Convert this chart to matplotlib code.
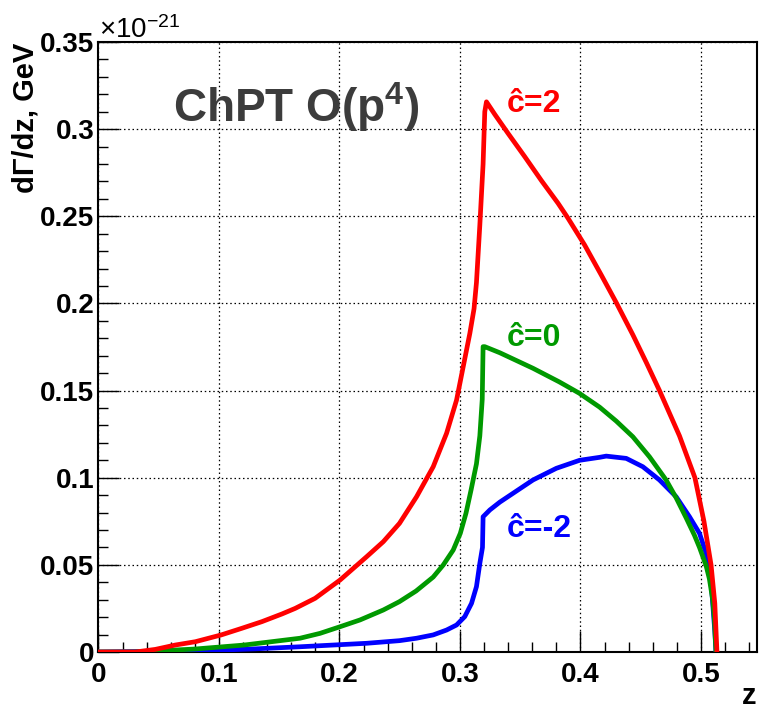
import matplotlib
matplotlib.use("Agg")
import matplotlib.pyplot as plt
from matplotlib.ticker import MultipleLocator, FixedLocator, FixedFormatter

plt.rcParams['font.family'] = ['Liberation Sans', 'DejaVu Sans']
plt.rcParams['mathtext.fontset'] = 'custom'
plt.rcParams['mathtext.rm'] = 'Liberation Sans'
plt.rcParams['mathtext.bf'] = 'Liberation Sans:bold'
plt.rcParams['mathtext.it'] = 'Liberation Sans:italic'

# ---- data ----
red_z = [0.0, 0.0307, 0.0472, 0.0638, 0.0804, 0.1019, 0.119, 0.1356, 0.1522, 0.1632,
         0.1798, 0.2005, 0.2226, 0.2364, 0.2498, 0.264, 0.2778, 0.2889, 0.2972,
         0.3027, 0.3082, 0.3117, 0.3137, 0.3165, 0.3192, 0.3206, 0.322,
         0.3289, 0.340, 0.3538, 0.3676, 0.3814, 0.3896, 0.4035, 0.4173, 0.4297,
         0.4435, 0.4546, 0.4656, 0.4822, 0.495, 0.5025, 0.5084, 0.5115, 0.5133]
red_y = [0.0, 0.0, 0.0015, 0.004, 0.0059, 0.0098, 0.0136, 0.0174, 0.0218, 0.025,
         0.0308, 0.0413, 0.0547, 0.0633, 0.0738, 0.0891, 0.1063, 0.1255, 0.1446,
         0.1637, 0.1828, 0.197, 0.212, 0.245, 0.280, 0.310, 0.3157,
         0.3085, 0.2975, 0.2842, 0.2705, 0.2575, 0.2490, 0.2335, 0.2163, 0.2005,
         0.182, 0.1662, 0.150, 0.124, 0.100, 0.075, 0.050, 0.028, 0.0]

green_z = [0.0, 0.03, 0.08, 0.121, 0.1673, 0.1839, 0.2005, 0.2171, 0.2364, 0.2498,
           0.2636, 0.2778, 0.2861, 0.2944, 0.3003, 0.3050, 0.3092, 0.3137, 0.3165,
           0.3185, 0.3192, 0.3206, 0.3331, 0.3606, 0.3824, 0.3990, 0.4159, 0.4297,
           0.4435, 0.4573, 0.4711, 0.4794, 0.4877, 0.4946, 0.4988, 0.5043, 0.5070,
           0.5098, 0.5112, 0.5117, 0.5125]
green_y = [0.0, 0.0, 0.0017, 0.004, 0.0079, 0.0107, 0.0145, 0.0184, 0.0241, 0.0289,
           0.0350, 0.0430, 0.0499, 0.0585, 0.0681, 0.0796, 0.0929, 0.108, 0.124,
           0.145, 0.1752, 0.1752, 0.1717, 0.1628, 0.155, 0.1485, 0.1405, 0.1325,
           0.1235, 0.112, 0.0987, 0.0885, 0.0770, 0.067, 0.060, 0.0495, 0.042,
           0.0298, 0.0184, 0.011, 0.0]

blue_z = [0.0, 0.09, 0.13, 0.1673, 0.195, 0.2226, 0.2498, 0.264, 0.2778, 0.2889,
          0.2972, 0.3040, 0.3096, 0.3137, 0.3165, 0.3187, 0.3192, 0.3248, 0.3331,
          0.3606, 0.38, 0.3993, 0.4159, 0.4214, 0.438, 0.4518, 0.4656, 0.4794,
          0.4905, 0.4988, 0.5043, 0.507, 0.509, 0.5115, 0.5125]
blue_y = [0.0, 0.0008, 0.0018, 0.003, 0.004, 0.005, 0.0065, 0.0079, 0.0098, 0.0126,
          0.0155, 0.0203, 0.0279, 0.0375, 0.0509, 0.0600, 0.0776, 0.0815, 0.0860,
          0.0987, 0.1054, 0.110, 0.1117, 0.1124, 0.1111, 0.1063, 0.0987, 0.0891,
          0.0776, 0.0681, 0.0566, 0.0489, 0.035, 0.012, 0.0]

x_ticks = [0.0, 0.1, 0.2, 0.3, 0.4, 0.5]
x_tick_labels = ['0', '0.1', '0.2', '0.3', '0.4', '0.5']
y_ticks = [0.0, 0.05, 0.10, 0.15, 0.20, 0.25, 0.30, 0.35]
y_tick_labels = ['0', '0.05', '0.1', '0.15', '0.2', '0.25', '0.3', '0.35']

curve_labels = ['\u0109=2', '\u0109=0', '\u0109=-2']
curve_colors = ['#ff0000', '#009900', '#0000ff']

# ---- figure ----
fig = plt.figure(figsize=(7.61, 7.10), dpi=100)
ax = fig.add_axes([0.1294, 0.0817, 0.9947 - 0.1294, 0.9408 - 0.0817])

lw = 3.4
ax.plot(blue_z, blue_y, color=curve_colors[2], lw=lw, zorder=3, solid_joinstyle='round')
ax.plot(green_z, green_y, color=curve_colors[1], lw=lw, zorder=4, solid_joinstyle='round')
ax.plot(red_z, red_y, color=curve_colors[0], lw=lw, zorder=5, solid_joinstyle='round')

ax.set_xlim(0, 0.5465)
ax.set_ylim(0, 0.35)

ax.xaxis.set_major_locator(FixedLocator(x_ticks))
ax.xaxis.set_major_formatter(FixedFormatter(x_tick_labels))
ax.yaxis.set_major_locator(FixedLocator(y_ticks))
ax.yaxis.set_major_formatter(FixedFormatter(y_tick_labels))
ax.xaxis.set_minor_locator(MultipleLocator(0.02))
ax.yaxis.set_minor_locator(MultipleLocator(0.01))

ax.tick_params(which='both', direction='in', top=False, right=False, color='black')
ax.tick_params(which='major', length=15, width=1.0)
ax.tick_params(which='minor', length=7.2, width=1.0)
ax.tick_params(axis='x', which='major', pad=7, labelsize=20)
ax.tick_params(axis='y', which='major', pad=3, labelsize=20)
for lab in ax.get_xticklabels() + ax.get_yticklabels():
    lab.set_fontweight('bold')

for s in ax.spines.values():
    s.set_linewidth(1.5)
    s.set_color('black')

ax.grid(True, which='major', color='black', linestyle=(0, (1.2, 2.2)), linewidth=0.9)
ax.set_axisbelow(True)

# curve labels
ax.text(0.339, 0.310, curve_labels[0], color=curve_colors[0], fontsize=23,
        fontweight='bold', ha='left', va='baseline', zorder=6)
ax.text(0.339, 0.1755, curve_labels[1], color=curve_colors[1], fontsize=23,
        fontweight='bold', ha='left', va='baseline', zorder=6)
ax.text(0.339, 0.066, curve_labels[2], color=curve_colors[2], fontsize=23,
        fontweight='bold', ha='left', va='baseline', zorder=6)

# title-like annotation
fig.text(173 / 761, (710 - 122) / 710, r'ChPT O(p$^{\mathbf{4}}$)', color='#3c3c3c',
         fontsize=33, fontweight='bold', ha='left', va='baseline')

# exponent
fig.text(99 / 761, (710 - 37.5) / 710, r'$\times$10$^{-21}$', color='black',
         fontsize=20, ha='left', va='baseline')

# axis titles
fig.text(26 / 761, (710 - 43) / 710, 'd\u0393/dz, GeV', rotation=90, fontsize=21,
         fontweight='bold', ha='center', va='top')
fig.text(756 / 761, (710 - 704) / 710, 'z', fontsize=21, fontweight='bold',
         ha='right', va='baseline')

fig.savefig('out.png', dpi=100, facecolor='white')
